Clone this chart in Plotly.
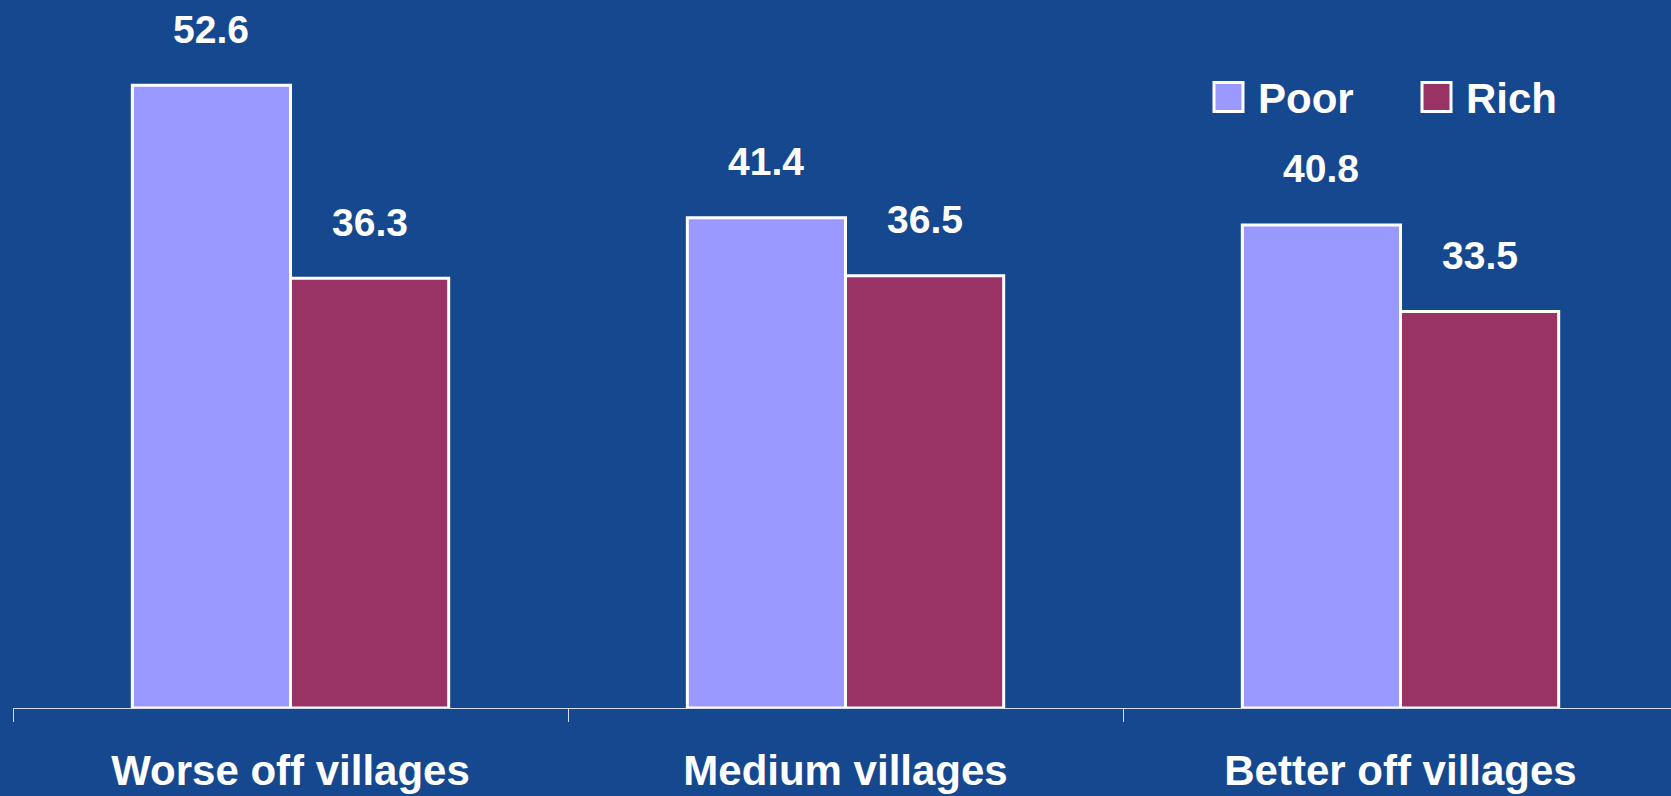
import plotly.graph_objects as go

# ---- data ----
categories = ["Worse off villages", "Medium villages", "Better off villages"]
series_names = ["Poor", "Rich"]
poor_values = [52.6, 41.4, 40.8]
rich_values = [36.3, 36.5, 33.5]
series_colors = ["#9999FF", "#993366"]

# ---- layout geometry (pixels) ----
W, H = 1671, 796
ML, MR, MT, MB = 13, 0, 0, 88
PW, PH = W - ML - MR, H - MT - MB
CAT_PX = 555.0
BARGAP = 0.43
BG = "#15488F"
FONT = "Liberation Sans, Arial, sans-serif"

x_lo = -0.5
x_hi = x_lo + PW / CAT_PX
Y_TOP = 59.8


def px_to_paper_x(px):
    return (px - ML) / PW


def px_to_paper_y(py):
    return (H - MB - py) / PH


fig = go.Figure()
for name, vals, col in zip(series_names, [poor_values, rich_values], series_colors):
    fig.add_trace(go.Bar(
        x=categories, y=vals, name=name,
        marker=dict(color=col, line=dict(color="white", width=3)),
        showlegend=False,
    ))

bar_px = (1 - BARGAP) * CAT_PX / 2
for i, vals in enumerate([poor_values, rich_values]):
    xshift = (i - 0.5) * bar_px
    for c, v in zip(categories, vals):
        fig.add_annotation(
            x=c, y=v, text=f"{v:.1f}", showarrow=False,
            xshift=xshift, yshift=56, yanchor="middle", xanchor="center",
            font=dict(family=FONT, size=39, color="white", weight="bold"),
        )

# legend drawn as boxes + text
legend_items = [(1214, 1256), (1422, 1464)]
box = 29
cy = 97
for (bx, tx), name, col in zip(legend_items, series_names, series_colors):
    fig.add_shape(
        type="rect", xref="paper", yref="paper",
        x0=px_to_paper_x(bx), x1=px_to_paper_x(bx + box),
        y0=px_to_paper_y(cy + box / 2), y1=px_to_paper_y(cy - box / 2),
        fillcolor=col, line=dict(color="white", width=3),
    )
    fig.add_annotation(
        xref="paper", yref="paper", x=px_to_paper_x(tx), y=px_to_paper_y(cy + 2),
        text=name, showarrow=False, xanchor="left", yanchor="middle",
        font=dict(family=FONT, size=42, color="white", weight="bold"),
    )

fig.update_layout(
    width=W, height=H,
    margin=dict(l=ML, r=MR, t=MT, b=MB, autoexpand=False),
    paper_bgcolor=BG, plot_bgcolor=BG,
    barmode="group", bargap=BARGAP, bargroupgap=0,
    showlegend=False,
    xaxis=dict(
        range=[x_lo, x_hi], tickson="boundaries", ticks="outside",
        ticklen=13, tickwidth=1, tickcolor="#D5DDEA",
        showline=True, linecolor="#D5DDEA", linewidth=1,
        showgrid=False, zeroline=False,
        tickfont=dict(family=FONT, size=42, color="white", weight="bold"),
        ticklabelstandoff=26,
    ),
    yaxis=dict(range=[0, Y_TOP], visible=False, showgrid=False, zeroline=False),
)

fig.write_html("out.html")
